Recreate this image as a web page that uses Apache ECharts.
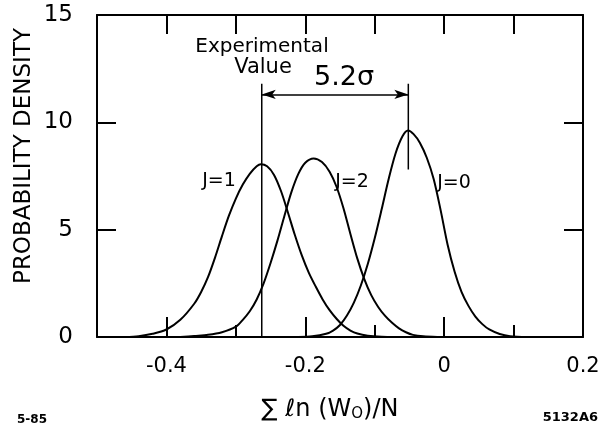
<!DOCTYPE html>
<html>
<head>
<meta charset="utf-8">
<script src="https://cdn.jsdelivr.net/npm/echarts@6/dist/echarts.min.js"></script>
<style>
  html, body { margin: 0; padding: 0; background: #fff; }
  #main { width: 599px; height: 429px; }
</style>
</head>
<body>
<div id="main"></div>
<script>
// values: [x, probability density]
var curveJ1 = [
  [-0.46, 0], [-0.44, 0.04], [-0.42, 0.15], [-0.40, 0.35], [-0.38, 0.8],
  [-0.36, 1.55], [-0.35, 2.1], [-0.34, 2.8], [-0.33, 3.7], [-0.32, 4.7],
  [-0.31, 5.65], [-0.30, 6.45], [-0.29, 7.1], [-0.28, 7.6], [-0.27, 7.95],
  [-0.264, 8.05], [-0.255, 7.95], [-0.245, 7.55], [-0.235, 6.8], [-0.225, 5.8],
  [-0.215, 4.75], [-0.205, 3.8], [-0.195, 3.0], [-0.185, 2.35], [-0.175, 1.75],
  [-0.165, 1.25], [-0.155, 0.85], [-0.145, 0.52], [-0.135, 0.3], [-0.125, 0.16],
  [-0.11, 0.06], [-0.09, 0.01], [-0.07, 0]
];
var curveJ2 = [
  [-0.38, 0], [-0.36, 0.05], [-0.34, 0.1], [-0.32, 0.22], [-0.30, 0.48],
  [-0.29, 0.8], [-0.28, 1.2], [-0.27, 1.75], [-0.26, 2.5], [-0.25, 3.45],
  [-0.24, 4.5], [-0.23, 5.65], [-0.22, 6.75], [-0.21, 7.6], [-0.20, 8.12],
  [-0.188, 8.32], [-0.176, 8.15], [-0.165, 7.7], [-0.155, 7.0], [-0.145, 6.0],
  [-0.135, 4.8], [-0.125, 3.65], [-0.115, 2.7], [-0.105, 1.95], [-0.095, 1.4],
  [-0.085, 0.98], [-0.075, 0.66], [-0.065, 0.4], [-0.055, 0.22], [-0.045, 0.1],
  [-0.03, 0.03], [-0.01, 0]
];
var curveJ0 = [
  [-0.21, 0], [-0.19, 0.03], [-0.17, 0.15], [-0.16, 0.3], [-0.15, 0.56],
  [-0.14, 1.0], [-0.13, 1.6], [-0.12, 2.4], [-0.11, 3.4], [-0.10, 4.6],
  [-0.09, 5.95], [-0.08, 7.35], [-0.07, 8.55], [-0.06, 9.35], [-0.052, 9.62],
  [-0.044, 9.45], [-0.035, 9.05], [-0.025, 8.35], [-0.015, 7.35], [-0.005, 5.9],
  [0.005, 4.3], [0.015, 3.05], [0.025, 2.1], [0.035, 1.45], [0.045, 0.95],
  [0.055, 0.6], [0.065, 0.35], [0.08, 0.14], [0.095, 0.04], [0.12, 0]
];
var experimentalValue = -0.2627;
var peakJ0 = -0.0516;
var markerTop = 11.8;
var markerJ0Bottom = 7.8;
var arrowLevel = 11.3;
var xLabelTicks = [-0.4, -0.2, 0, 0.2];

var chartDom = document.getElementById("main");
var myChart = echarts.init(chartDom);

var font = "DejaVu Sans";
var black = "#000";
var gridBox = { left: 97, top: 15, width: 486, height: 322, outerBoundsMode: "none", containLabel: false };
var frameLine = { show: true, onZero: false, lineStyle: { color: black, width: 2 } };

function curveSeries(data) {
  return {
    type: "line",
    xAxisIndex: 0,
    yAxisIndex: 0,
    data: data,
    smooth: 0.3,
    showSymbol: false,
    symbol: "none",
    lineStyle: { color: black, width: 2 },
    silent: true,
  };
}

function label(text, x, y, size, extra) {
  return {
    type: "text", x: x, y: y,
    style: Object.assign({
      text: text, fill: black, fontFamily: font, fontSize: size,
      textAlign: "center", textVerticalAlign: "middle",
    }, extra || {}),
  };
}

var option = {
  animation: false,
  backgroundColor: "#fff",
  grid: [gridBox, Object.assign({}, gridBox)],
  xAxis: [
    {
      // bottom, short ticks every 0.1
      type: "value", gridIndex: 0, position: "bottom",
      min: -0.5, max: 0.2, interval: 0.1,
      axisLine: frameLine,
      axisTick: { show: true, inside: true, length: 12, lineStyle: { color: black, width: 2 } },
      axisLabel: { show: false },
      splitLine: { show: false },
    },
    {
      // top frame
      type: "value", gridIndex: 0, position: "top",
      min: -0.5, max: 0.2, interval: 0.1,
      axisLine: frameLine,
      axisTick: { show: true, inside: true, length: 19, lineStyle: { color: black, width: 2 } },
      axisLabel: { show: false },
      splitLine: { show: false },
    },
    {
      // bottom, long labelled ticks
      type: "value", gridIndex: 1, position: "bottom",
      min: -0.5, max: 0.2,
      axisLine: { show: false, onZero: false },
      axisTick: { show: true, inside: true, length: 20, customValues: xLabelTicks, lineStyle: { color: black, width: 2 } },
      axisLabel: {
        show: true, customValues: xLabelTicks, margin: 19,
        color: black, fontFamily: font, fontSize: 21,
        formatter: function (v) { return v === 0 ? "0" : v.toFixed(1); },
      },
      splitLine: { show: false },
    },
  ],
  yAxis: [
    {
      type: "value", gridIndex: 0, position: "left",
      min: 0, max: 15, interval: 5,
      axisLine: frameLine,
      axisTick: { show: true, inside: true, length: 19, lineStyle: { color: black, width: 2 } },
      axisLabel: { show: true, margin: 24, color: black, fontFamily: font, fontSize: 23 },
      splitLine: { show: false },
    },
    {
      type: "value", gridIndex: 0, position: "right",
      min: 0, max: 15, interval: 5,
      axisLine: frameLine,
      axisTick: { show: true, inside: true, length: 19, lineStyle: { color: black, width: 2 } },
      axisLabel: { show: false },
      splitLine: { show: false },
    },
    {
      type: "value", gridIndex: 1, show: false, min: 0, max: 15,
      axisLine: { show: false, onZero: false },
    },
  ],
  series: [
    curveSeries(curveJ1),
    curveSeries(curveJ2),
    curveSeries(curveJ0),
    {
      // experimental value line
      type: "line", xAxisIndex: 0, yAxisIndex: 0,
      data: [[experimentalValue, 0], [experimentalValue, markerTop]],
      symbol: "none", lineStyle: { color: black, width: 1.5 }, silent: true,
      markLine: {
        silent: true,
        symbol: ["arrow", "arrow"],
        symbolSize: [7, 14],
        label: { show: false },
        lineStyle: { color: black, width: 1.5, type: "solid" },
        data: [[{ coord: [experimentalValue, arrowLevel] }, { coord: [peakJ0, arrowLevel] }]],
      },
    },
    {
      // J=0 peak marker
      type: "line", xAxisIndex: 0, yAxisIndex: 0,
      data: [[peakJ0, markerJ0Bottom], [peakJ0, markerTop]],
      symbol: "none", lineStyle: { color: black, width: 1.5 }, silent: true,
    },
  ],
  graphic: [
    Object.assign(label("PROBABILITY DENSITY", 24, 156, 23), { rotation: Math.PI / 2 }),
    label("Experimental", 262, 47, 20),
    label("Value", 263, 68, 21),
    label("5.2σ", 344, 78, 27),
    label("J=1", 219, 181, 19),
    label("J=2", 352, 182, 19),
    label("J=0", 454, 183, 19),
    label("∑ ℓn (W{s|O})/N", 330, 410, 24, {
      rich: { s: { fontSize: 15, fontFamily: font, fill: black, padding: [9, 0, 0, 0] } },
    }),
    label("5-85", 17, 420, 12, { textAlign: "left", fontWeight: "bold" }),
    label("5132A6", 598, 418, 13, { textAlign: "right", fontWeight: "bold" }),
  ],
};

option && myChart.setOption(option);
</script>
</body>
</html>
